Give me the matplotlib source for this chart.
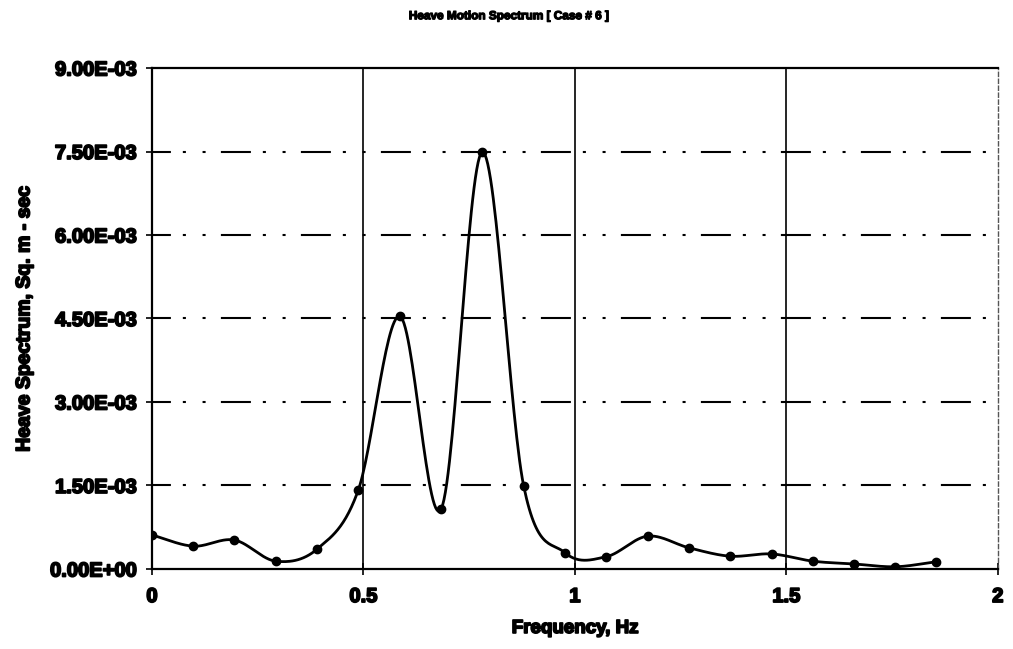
import numpy as np
import matplotlib
matplotlib.use("Agg")
import matplotlib.pyplot as plt
import matplotlib.patheffects as pe
from matplotlib.ticker import FuncFormatter

freq = [0.000, 0.098, 0.195, 0.293, 0.391, 0.488, 0.586, 0.684, 0.781, 0.879,
        0.977, 1.074, 1.172, 1.270, 1.367, 1.465, 1.563, 1.660, 1.758, 1.855]
heave = [0.61e-3, 0.41e-3, 0.52e-3, 0.14e-3, 0.36e-3, 1.42e-3, 4.54e-3, 1.08e-3, 7.49e-3, 1.49e-3,
         0.29e-3, 0.22e-3, 0.59e-3, 0.38e-3, 0.23e-3, 0.27e-3, 0.14e-3, 0.09e-3, 0.04e-3, 0.13e-3]
xticks = [0, 0.5, 1, 1.5, 2]
yticks = [0, 1.5e-3, 3e-3, 4.5e-3, 6e-3, 7.5e-3, 9e-3]

plt.rcParams['font.family'] = ['Liberation Sans', 'DejaVu Sans']
plt.rcParams['lines.scale_dashes'] = False


def smooth(x, y, n=30):
    # Catmull-Rom style smoothing (like Excel's smoothed line) for rendering
    x = np.asarray(x, float); y = np.asarray(y, float)
    px = np.concatenate([[2 * x[0] - x[1]], x, [2 * x[-1] - x[-2]]])
    py = np.concatenate([[2 * y[0] - y[1]], y, [2 * y[-1] - y[-2]]])
    xs, ys = [], []
    t = np.linspace(0, 1, n, endpoint=False)
    for i in range(1, len(px) - 2):
        p0, p1, p2, p3 = (np.array([px[j], py[j]]) for j in range(i - 1, i + 3))
        m1 = (p2 - p0) / 2
        m2 = (p3 - p1) / 2
        h00 = 2 * t**3 - 3 * t**2 + 1
        h10 = t**3 - 2 * t**2 + t
        h01 = -2 * t**3 + 3 * t**2
        h11 = t**3 - t**2
        pts = np.outer(h00, p1) + np.outer(h10, m1) + np.outer(h01, p2) + np.outer(h11, m2)
        xs.append(pts[:, 0]); ys.append(pts[:, 1])
    xs.append([x[-1]]); ys.append([y[-1]])
    return np.concatenate(xs), np.concatenate(ys)


heavy = [pe.withStroke(linewidth=1.3, foreground='black')]
heavy_small = [pe.withStroke(linewidth=0.9, foreground='black')]

fig = plt.figure(figsize=(10.13, 6.49), dpi=100)
ax = fig.add_axes([0.150, 0.1233, 0.835, 0.7719])

ax.set_xlim(0, 2)
ax.set_ylim(0, 9e-3)
ax.set_xticks(xticks)
ax.set_yticks(yticks)
ax.xaxis.set_major_formatter(FuncFormatter(lambda v, p: f"{v:g}"))
ax.yaxis.set_major_formatter(FuncFormatter(
    lambda v, p: "0.00E+00" if v == 0 else f"{v:.2E}"))

# grid lines
for yv in yticks[1:-1]:
    ax.axhline(yv, color='black', lw=1.5,
               linestyle=(8, (21.6, 8.6, 2.2, 12, 2.2, 11)), zorder=1)
for xv in xticks[1:-1]:
    ax.axvline(xv, color='black', lw=1.2, zorder=1)

sx, sy = smooth(freq, heave)
ax.plot(sx, sy, color='black', lw=2.0, zorder=3)
ax.plot(freq, heave, 'o', color='black', ms=6, zorder=4)

for s in ['left', 'bottom', 'top']:
    ax.spines[s].set_linewidth(1.6)
ax.spines['right'].set_linewidth(1.0)
ax.spines['right'].set_linestyle((0, (3, 2)))
ax.spines['right'].set_color('#555555')

ax.tick_params(axis='both', direction='inout', length=8, width=1.2,
               labelsize=14.5)
ax.tick_params(axis='x', pad=9)
ax.tick_params(axis='y', pad=7)
for lab in ax.get_xticklabels() + ax.get_yticklabels():
    lab.set_fontweight('bold')
    lab.set_path_effects(heavy)

ax.set_xlabel('Frequency, Hz', fontsize=13.5, fontweight='bold', labelpad=10,
              path_effects=heavy)
ax.set_ylabel('Heave Spectrum, Sq. m - sec', fontsize=14, fontweight='bold', labelpad=12,
              path_effects=heavy)
fig.text(0.502, 0.975, 'Heave Motion Spectrum [ Case # 6 ]', ha='center', va='center',
         fontsize=8.5, fontweight='bold', path_effects=heavy_small)

fig.savefig('out.png', dpi=100, facecolor='white')
